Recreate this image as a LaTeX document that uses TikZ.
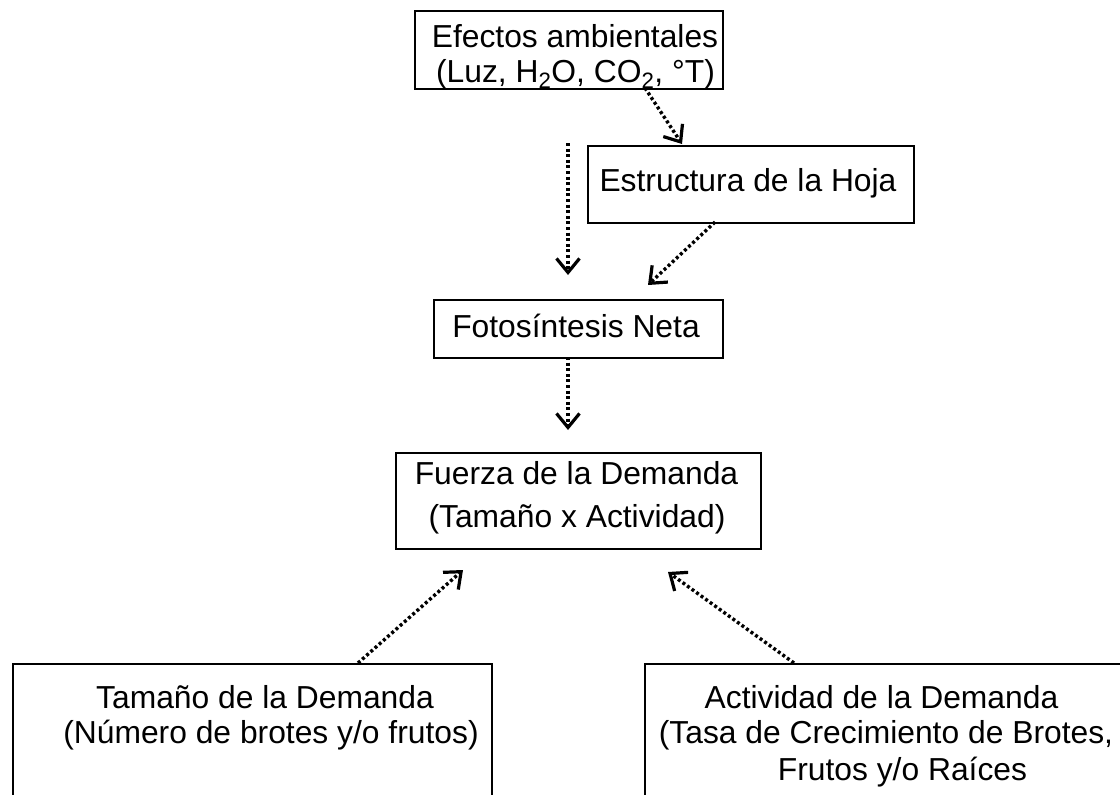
\documentclass[tikz,border=0pt]{standalone}
\usepackage{fontspec}
\setmainfont{Liberation Sans}
\usetikzlibrary{arrows.meta}
\begin{document}
\begin{tikzpicture}[x=1pt,y=-1pt,
  box/.style={draw,line width=2.1pt,rectangle,inner sep=0pt,anchor=north west},
  lbl/.style={anchor=base,inner sep=0pt,font=\fontsize{31.8}{36}\selectfont},
  arr/.style={line width=3.4pt,dash pattern=on 3pt off 2.6pt,
    -{Straight Barb[length=14pt,width=23pt,line width=3.2pt]}}]
\useasboundingbox (0,0) rectangle (1120,795);
\clip (0,0) rectangle (1120,795);
% boxes
\node[box,minimum width=308pt,minimum height=78pt] (efectos) at (414,10) {};
\node[box,minimum width=326pt,minimum height=77pt] (estructura) at (587,145) {};
\node[box,minimum width=289pt,minimum height=58pt] (foto) at (433,299) {};
\node[box,minimum width=365pt,minimum height=96pt] (fuerza) at (395,452) {};
\node[box,minimum width=479pt,minimum height=150pt] (tamano) at (12,663) {};
\node[box,minimum width=486pt,minimum height=150pt] (actividad) at (644,663) {};
% texts
\node[lbl] (e1) at (575,47) {Efectos ambientales};
\node[lbl] (e2) at (575.5,82) {(Luz, H\textsubscript{2}O, CO\textsubscript{2}, °T)};
\node[lbl] (es) at (748,191) {Estructura de la Hoja};
\node[lbl] (fo) at (576,337) {Fotosíntesis Neta};
\node[lbl] (fu1) at (576.5,484) {Fuerza de la Demanda};
\node[lbl] (fu2) at (577,527) {(Tamaño x Actividad)};
\node[lbl] (t1) at (265,708) {Tamaño de la Demanda};
\node[lbl] (t2) at (271,743) {(Número de brotes y/o frutos)};
\node[lbl] (a1) at (881.5,708) {Actividad de la Demanda};
\node[lbl] (a2) at (886,743) {(Tasa de Crecimiento de Brotes,};
\node[lbl] (a3) at (902.5,780) {Frutos y/o Raíces};
% arrow end points
\coordinate (p1s) at (645,88);  \coordinate (p1e) at (682,144);
\coordinate (p2s) at (568,143); \coordinate (p2e) at (568,275);
\coordinate (p3s) at (715,222); \coordinate (p3e) at (648,285);
\coordinate (p4s) at (568,357); \coordinate (p4e) at (568,430);
\coordinate (p5s) at (358,663); \coordinate (p5e) at (463,570);
\coordinate (p6s) at (794,663); \coordinate (p6e) at (668,572);
\draw[arr] (p1s) -- (p1e);
\draw[arr] (p2s) -- (p2e);
\draw[arr] (p3s) -- (p3e);
\draw[arr] (p4s) -- (p4e);
\draw[arr] (p5s) -- (p5e);
\draw[arr] (p6s) -- (p6e);
\end{tikzpicture}
\end{document}
